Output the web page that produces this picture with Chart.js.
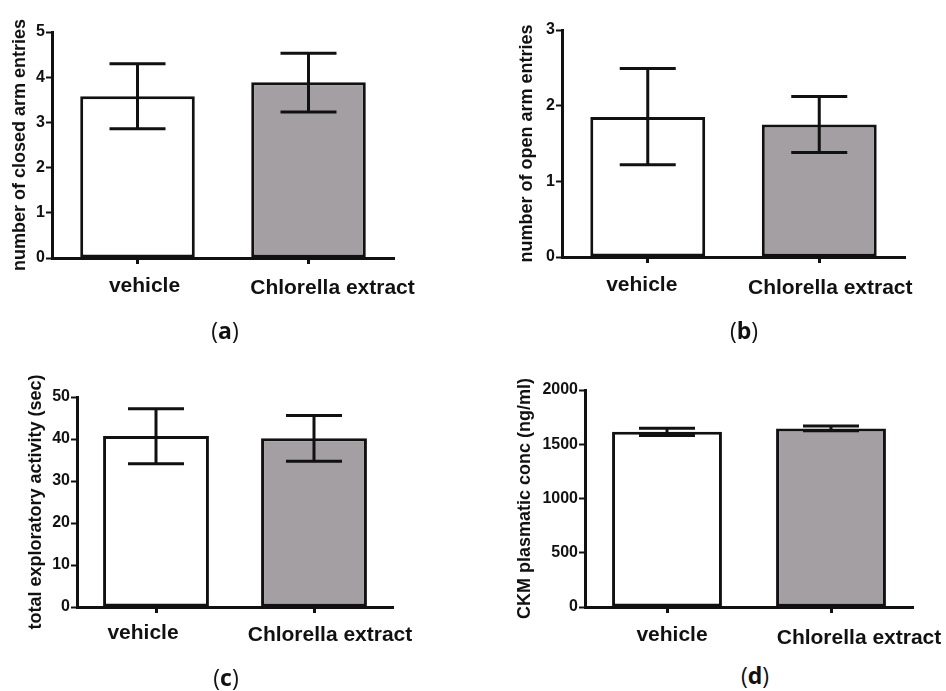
<!DOCTYPE html>
<html>
<head>
<meta charset="utf-8">
<script src="https://cdn.jsdelivr.net/npm/chart.js@4.4.1/dist/chart.umd.min.js"></script>
<style>
  html, body { margin: 0; padding: 0; background: #fff; }
  body { width: 946px; height: 691px; position: relative; overflow: hidden; }
  .panel { position: absolute; }
  .tag { position: absolute; font-family: "Open Sans", sans-serif; font-size: 23px; color: #111; transform: translate(-50%, -50%); }
</style>
</head>
<body>
<div class="panel" style="left:0;top:0;width:470px;height:310px"><canvas id="chartA"></canvas></div>
<div class="panel" style="left:470px;top:0;width:476px;height:310px"><canvas id="chartB"></canvas></div>
<div class="panel" style="left:0;top:345px;width:470px;height:310px"><canvas id="chartC"></canvas></div>
<div class="panel" style="left:470px;top:345px;width:476px;height:310px"><canvas id="chartD"></canvas></div>
<div class="tag" style="left:225px;top:330px">(<b>a</b>)</div>
<div class="tag" style="left:744px;top:330px">(<b>b</b>)</div>
<div class="tag" style="left:226px;top:677px">(<b>c</b>)</div>
<div class="tag" style="left:755px;top:675px">(<b>d</b>)</div>
<script>
// groups shared by all four panels
const groups = ["vehicle", "Chlorella extract"];

// (a) closed arm entries
const closedMean = [3.58, 3.89];
const closedHigh = [4.30, 4.53];
const closedLow  = [2.86, 3.23];

// (b) open arm entries
const openMean = [1.85, 1.75];
const openHigh = [2.49, 2.12];
const openLow  = [1.22, 1.38];

// (c) total exploratory activity
const exploreMean = [40.7, 40.2];
const exploreHigh = [47.2, 45.6];
const exploreLow  = [34.1, 34.7];

// (d) CKM plasmatic concentration
const ckmMean = [1615, 1646];
const ckmHigh = [1648, 1668];
const ckmLow  = [1580, 1624];

const FONT = "'Liberation Sans', Arial, sans-serif";
const barFills = ["#ffffff", "#a39fa3"];

// error bars: vertical whisker + caps, from the y scale
const errorBars = {
  id: "errorBars",
  afterDatasetsDraw(chart, args, opts) {
    const { ctx } = chart;
    const yScale = chart.scales.y;
    const meta = chart.getDatasetMeta(0);
    ctx.save();
    ctx.strokeStyle = "#111";
    ctx.lineWidth = 3;
    meta.data.forEach((bar, i) => {
      const yHi = yScale.getPixelForValue(opts.high[i]);
      const yLo = yScale.getPixelForValue(opts.low[i]);
      const half = opts.cap;
      ctx.beginPath();
      ctx.moveTo(bar.x, yHi);
      ctx.lineTo(bar.x, yLo);
      ctx.moveTo(bar.x - half, yHi);
      ctx.lineTo(bar.x + half, yHi);
      ctx.moveTo(bar.x - half, yLo);
      ctx.lineTo(bar.x + half, yLo);
      ctx.stroke();
    });
    ctx.restore();
  }
};

// category labels under the x axis (each nudged a little, as in the figure)
const groupLabels = {
  id: "groupLabels",
  afterDraw(chart, args, opts) {
    const { ctx } = chart;
    const xScale = chart.scales.x;
    ctx.save();
    ctx.font = `bold 21px ${FONT}`;
    ctx.fillStyle = "#111";
    ctx.textAlign = "center";
    ctx.textBaseline = "middle";
    chart.data.labels.forEach((lab, i) => {
      const x = xScale.getPixelForValue(i) + opts.dx[i];
      ctx.fillText(lab, x, chart.chartArea.bottom + opts.dy[i]);
    });
    ctx.restore();
  }
};

function makeChart(id, cfg) {
  const canvas = document.getElementById(id);
  const box = canvas.parentElement;
  const W = box.clientWidth, H = box.clientHeight;
  return new Chart(canvas, {
    type: "bar",
    data: {
      labels: groups,
      datasets: [{
        data: cfg.mean,
        backgroundColor: barFills,
        borderColor: "#111",
        borderWidth: 3,
        borderSkipped: false,
        barPercentage: 0.67,
        categoryPercentage: 1,
      }],
    },
    options: {
      responsive: true,
      maintainAspectRatio: false,
      animation: false,
      layout: { padding: { top: cfg.top, right: W - cfg.right, left: 0, bottom: 0 } },
      plugins: {
        legend: { display: false },
        tooltip: { enabled: false },
        errorBars: { high: cfg.high, low: cfg.low, cap: 28 },
        groupLabels: { dx: cfg.dx, dy: cfg.dy },
      },
      scales: {
        x: {
          afterFit: s => { s.height = H - cfg.bottom; },
          grid: {
            offset: false,
            drawOnChartArea: false,
            drawTicks: true,
            tickLength: 6,
            tickWidth: 3,
            tickColor: "#111",
          },
          border: { display: true, color: "#111", width: 3 },
          ticks: { display: false },
        },
        y: {
          min: 0,
          max: cfg.max,
          afterFit: s => { s.width = cfg.left; },
          grid: {
            drawOnChartArea: false,
            drawTicks: true,
            tickLength: 6,
            tickWidth: 2,
            tickColor: "#111",
          },
          border: { display: true, color: "#111", width: 3 },
          ticks: {
            stepSize: cfg.step,
            padding: 1,
            color: "#111",
            font: { family: FONT, size: 16, weight: "bold" },
            callback: v => String(v),
          },
          title: {
            display: true,
            text: cfg.title,
            color: "#111",
            padding: { top: cfg.titlePad, bottom: 0 },
            font: { family: FONT, size: 18, weight: "bold" },
          },
        },
      },
    },
    plugins: [errorBars, groupLabels],
  });
}

makeChart("chartA", {
  mean: closedMean, high: closedHigh, low: closedLow,
  max: 5, step: 1, title: "number of closed arm entries",
  left: 52, right: 394, top: 32, bottom: 258, titlePad: 9,
  dx: [7, 24], dy: [28, 30],
});

makeChart("chartB", {
  mean: openMean, high: openHigh, low: openLow,
  max: 3, step: 1, title: "number of open arm entries",
  left: 92, right: 435, top: 30, bottom: 257, titlePad: 46,
  dx: [-6, 11], dy: [28, 31],
});

makeChart("chartC", {
  mean: exploreMean, high: exploreHigh, low: exploreLow,
  max: 50, step: 10, title: "total exploratory activity (sec)",
  left: 77, right: 393, top: 52, bottom: 262, titlePad: 25,
  dx: [-13, 16], dy: [26, 28],
});

makeChart("chartD", {
  mean: ckmMean, high: ckmHigh, low: ckmLow,
  max: 2000, step: 500, title: "CKM plasmatic conc (ng/ml)",
  left: 115, right: 443, top: 45, bottom: 262, titlePad: 44,
  dx: [5, 28], dy: [28, 31],
});
</script>
</body>
</html>
